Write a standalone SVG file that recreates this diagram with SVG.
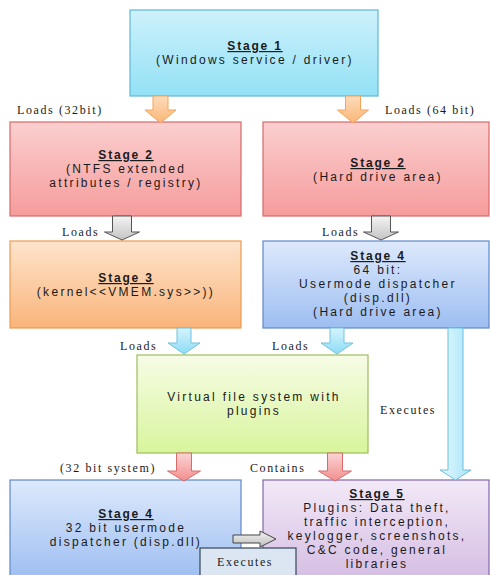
<svg xmlns="http://www.w3.org/2000/svg" width="490" height="575" viewBox="0 0 490 575">
<defs>
<linearGradient id="gCyan" x1="0" y1="0" x2="0" y2="1"><stop offset="0" stop-color="#cdf1fb"/><stop offset="1" stop-color="#93e1f6"/></linearGradient>
<linearGradient id="gRed" x1="0" y1="0" x2="0" y2="1"><stop offset="0" stop-color="#fbcfcf"/><stop offset="1" stop-color="#f69c9c"/></linearGradient>
<linearGradient id="gOrange" x1="0" y1="0" x2="0" y2="1"><stop offset="0" stop-color="#fde4cc"/><stop offset="1" stop-color="#fab47a"/></linearGradient>
<linearGradient id="gBlue" x1="0" y1="0" x2="0" y2="1"><stop offset="0" stop-color="#dde9fc"/><stop offset="1" stop-color="#9dbef1"/></linearGradient>
<linearGradient id="gGreen" x1="0" y1="0" x2="0" y2="1"><stop offset="0" stop-color="#f6fce6"/><stop offset="1" stop-color="#d8f59c"/></linearGradient>
<linearGradient id="gPurple" x1="0" y1="0" x2="0" y2="1"><stop offset="0" stop-color="#f2e9f7"/><stop offset="1" stop-color="#d5bde3"/></linearGradient>
<linearGradient id="aOrange" x1="0" y1="0" x2="0" y2="1"><stop offset="0" stop-color="#fddcbc"/><stop offset="1" stop-color="#fbb676"/></linearGradient>
<linearGradient id="aGrey" x1="0" y1="0" x2="0" y2="1"><stop offset="0" stop-color="#f4f4f4"/><stop offset="1" stop-color="#c4c4c4"/></linearGradient>
<linearGradient id="aBlue" x1="0" y1="0" x2="0" y2="1"><stop offset="0" stop-color="#d7f4fd"/><stop offset="1" stop-color="#8cdcf5"/></linearGradient>
<linearGradient id="aRed" x1="0" y1="0" x2="0" y2="1"><stop offset="0" stop-color="#fcd4d4"/><stop offset="1" stop-color="#f28e8e"/></linearGradient>
<linearGradient id="aLong" x1="0" y1="0" x2="1" y2="0"><stop offset="0" stop-color="#e4f8fe"/><stop offset="1" stop-color="#a6e5f8"/></linearGradient>
<linearGradient id="aH" x1="0" y1="0" x2="0" y2="1"><stop offset="0" stop-color="#f4f4f4"/><stop offset="1" stop-color="#bdbdbd"/></linearGradient>
</defs>
<style>
.box{stroke-width:1.2}
.t{font-family:"Liberation Sans",Arial,sans-serif;font-size:12px;letter-spacing:2.3px;fill:#1a1a1a;text-anchor:middle}
.h{font-weight:bold;text-decoration:underline;letter-spacing:1.8px}
.l{font-family:"Liberation Serif","Times New Roman",serif;font-size:12px;letter-spacing:1.6px;fill:#1a1a1a}
</style>

<g id="stage1">
  <rect class="box" x="130" y="10" width="248" height="86" fill="url(#gCyan)" stroke="#5fb8d4"/>
  <text class="t h" x="255" y="50">Stage 1</text>
  <text class="t" x="255" y="64">(Windows service / driver)</text>
</g>

<g id="stage2a">
  <rect class="box" x="10" y="122" width="231" height="94" fill="url(#gRed)" stroke="#d46a6a"/>
  <text class="t h" x="126" y="159">Stage 2</text>
  <text class="t" x="126" y="173">(NTFS extended</text>
  <text class="t" x="126" y="187">attributes / registry)</text>
</g>

<g id="stage2b">
  <rect class="box" x="263" y="122" width="226" height="94" fill="url(#gRed)" stroke="#d46a6a"/>
  <text class="t h" x="378" y="167">Stage 2</text>
  <text class="t" x="378" y="181">(Hard drive area)</text>
</g>

<g id="stage3">
  <rect class="box" x="10" y="241" width="231" height="87" fill="url(#gOrange)" stroke="#eb9a52"/>
  <text class="t h" x="126" y="282">Stage 3</text>
  <text class="t" x="126" y="296">(kernel&lt;&lt;VMEM.sys&gt;&gt;))</text>
</g>

<g id="stage4b">
  <rect class="box" x="263" y="241" width="226" height="87" fill="url(#gBlue)" stroke="#5f88c9"/>
  <text class="t h" x="378" y="260">Stage 4</text>
  <text class="t" x="378" y="274">64 bit:</text>
  <text class="t" x="378" y="288">Usermode dispatcher</text>
  <text class="t" x="378" y="302">(disp.dll)</text>
  <text class="t" x="378" y="316">(Hard drive area)</text>
</g>

<g id="vfs">
  <rect class="box" x="137" y="355" width="231" height="98" fill="url(#gGreen)" stroke="#9dbd5c"/>
  <text class="t" x="254" y="401">Virtual file system with</text>
  <text class="t" x="254" y="415">plugins</text>
</g>

<g id="stage4a">
  <rect class="box" x="10" y="480" width="231" height="100" fill="url(#gBlue)" stroke="#5f88c9"/>
  <text class="t h" x="126" y="518">Stage 4</text>
  <text class="t" x="126" y="532">32 bit usermode</text>
  <text class="t" x="126" y="546">dispatcher (disp.dll)</text>
</g>

<g id="stage5">
  <rect class="box" x="263" y="480" width="226" height="100" fill="url(#gPurple)" stroke="#8468a6"/>
  <text class="t h" x="377" y="498">Stage 5</text>
  <text class="t" x="377" y="512">Plugins: Data theft,</text>
  <text class="t" x="377" y="526">traffic interception,</text>
  <text class="t" x="377" y="540">keylogger, screenshots,</text>
  <text class="t" x="377" y="554">C&amp;C code, general</text>
  <text class="t" x="377" y="568">libraries</text>
</g>

<g id="connectors">
  <path d="M153,96 H168 V110 H176 L160.5,123 L145,110 H153 Z" fill="url(#aOrange)" stroke="#f4a35a" stroke-width="1"/>
  <path d="M345.5,96 H360.5 V110 H368.5 L353,123 L337.5,110 H345.5 Z" fill="url(#aOrange)" stroke="#f4a35a" stroke-width="1"/>
  <path d="M112.5,216 H131.5 V232 H139.5 L122,240 L104.5,232 H112.5 Z" fill="url(#aGrey)" stroke="#555" stroke-width="1"/>
  <path d="M371.5,216 H390.5 V232 H398.5 L381,240 L363.5,232 H371.5 Z" fill="url(#aGrey)" stroke="#555" stroke-width="1"/>
  <path d="M177,328 H191 V343 H200 L184,354 L168,343 H177 Z" fill="url(#aBlue)" stroke="#72c2dc" stroke-width="1"/>
  <path d="M330,328 H344 V343 H353 L337,354 L321,343 H330 Z" fill="url(#aBlue)" stroke="#72c2dc" stroke-width="1"/>
  <path d="M176.5,453 H191.5 V471 H200.5 L184,481 L167.5,471 H176.5 Z" fill="url(#aRed)" stroke="#da6b6b" stroke-width="1"/>
  <path d="M327.5,453 H342.5 V471 H351.5 L335,481 L318.5,471 H327.5 Z" fill="url(#aRed)" stroke="#da6b6b" stroke-width="1"/>
  <path d="M448,328 H463 V470 H471 L455.5,480 L440,470 H448 Z" fill="url(#aLong)" stroke="#6cbfdc" stroke-width="1"/>
  <path d="M233,535 H260 V531 L276,539 L260,547 V543 H233 Z" fill="url(#aH)" stroke="#444" stroke-width="1"/>
</g>

<g id="executes-box">
  <rect x="200" y="548" width="96" height="30" fill="#dce6f2" stroke="#34465a" stroke-width="1.2"/>
  <text class="l" x="217" y="566">Executes</text>
</g>

<g id="labels">
  <text class="l" x="17" y="114">Loads (32bit)</text>
  <text class="l" x="385" y="114">Loads (64 bit)</text>
  <text class="l" x="62" y="236">Loads</text>
  <text class="l" x="322" y="236">Loads</text>
  <text class="l" x="120" y="350">Loads</text>
  <text class="l" x="272" y="350">Loads</text>
  <text class="l" x="380" y="414">Executes</text>
  <text class="l" x="60" y="472">(32 bit system)</text>
  <text class="l" x="250" y="472">Contains</text>
</g>
</svg>
